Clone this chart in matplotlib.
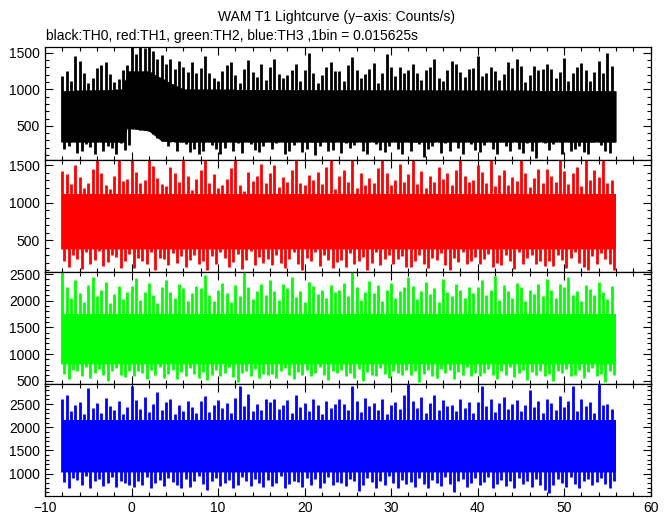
import numpy as np
import matplotlib
matplotlib.use('Agg')
import matplotlib.pyplot as plt
from matplotlib.ticker import MultipleLocator

plt.rcParams['font.family'] = ['Liberation Sans', 'DejaVu Sans']

# upper-side and lower-side excursions every 0.5 s,
# t = -8.0, -7.5, ... 55.5 s (one row = 8 s)
th0_hi = [1180, 1250, 1120, 1450, 1390, 1230, 1090, 1150, 1290, 1330, 1380, 1210, 1100, 1140, 1260, 1330,
          1575, 1490, 1575, 1560, 1575, 1520, 1420, 1470, 1350, 1420, 1280, 1390, 1310, 1240, 1380, 1220,
          1290, 1460, 1220, 1160, 1110, 1250, 1330, 1380, 1190, 1090, 1280, 1400, 1240, 1170, 1350, 1130,
          1300, 1420, 1210, 1150, 1190, 1270, 1340, 1120, 1260, 1500, 1230, 1080, 1190, 1310, 1380, 1250,
          1250, 1120, 1330, 1440, 1270, 1160, 1210, 1280, 1360, 1090, 1230, 1480, 1310, 1180, 1300, 1230,
          1270, 1350, 1220, 1130, 1260, 1310, 1420, 1150, 1110, 1260, 1390, 1340, 1240, 1170, 1280, 1290,
          1450, 1180, 1230, 1300, 1250, 1130, 1210, 1370, 1290, 1410, 1320, 1100, 1200, 1320, 1260, 1280,
          1350, 1280, 1160, 1240, 1430, 1120, 1220, 1300, 1360, 1270, 1110, 1240, 1390, 1230, 1500, 1320]
th0_lo = [180, 230, 290, 130, 160, 250, 210, 110, 300, 150, 230, 200, 120, 270, 170, 240,
          560, 640, 480, 600, 520, 450, 380, 300, 220, 330, 160, 280, 250, 140, 190, 120,
          150, 290, 240, 180, 110, 200, 320, 160, 270, 130, 300, 250, 170, 140, 220, 310,
          190, 260, 300, 120, 160, 240, 330, 140, 180, 280, 100, 230, 310, 150, 170, 290,
          130, 270, 200, 240, 310, 150, 110, 290, 250, 170, 140, 230, 320, 190, 120, 300,
          160, 280, 250, 70, 180, 230, 310, 130, 260, 150, 300, 200, 120, 290, 250, 170,
          140, 240, 300, 180, 110, 280, 230, 160, 320, 190, 130, 270, 150, 60, 310, 260,
          170, 250, 290, 120, 320, 150, 190, 230, 140, 110, 280, 300, 240, 160, 130, 280]

th1_hi = [1420, 1380, 1250, 1500, 1340, 1190, 1260, 1450, 1575, 1390, 1230, 1180, 1360, 1575, 1290, 1310,
          1575, 1410, 1260, 1300, 1575, 1490, 1330, 1250, 1220, 1470, 1400, 1280, 1575, 1350, 1170, 1320,
          1440, 1575, 1260, 1380, 1190, 1230, 1320, 1460, 1575, 1240, 1150, 1410, 1290, 1350, 1520, 1260,
          1390, 1500, 1210, 1340, 1270, 1430, 1575, 1260, 1230, 1370, 1300, 1410, 1250, 1480, 1575, 1180,
          1350, 1440, 1280, 1575, 1200, 1390, 1240, 1330, 1260, 1460, 1575, 1400, 1230, 1300, 1520, 1270,
          1380, 1575, 1250, 1420, 1190, 1350, 1280, 1470, 1320, 1390, 1240, 1440, 1575, 1360, 1270, 1300,
          1500, 1410, 1260, 1575, 1220, 1370, 1430, 1230, 1340, 1290, 1575, 1400, 1210, 1330, 1450, 1260,
          1450, 1360, 1270, 1575, 1420, 1250, 1390, 1480, 1220, 1575, 1300, 1440, 1340, 1575, 1260, 1300]
th1_lo = [220, 150, 310, 250, 120, 340, 190, 240, 360, 160, 210, 300, 280, 130, 230, 320,
          130, 270, 230, 180, 350, 100, 260, 250, 170, 330, 200, 290, 140, 240, 310, 190,
          230, 110, 290, 190, 340, 260, 150, 210, 320, 120, 240, 360, 170, 280, 200, 250,
          170, 300, 200, 130, 250, 350, 180, 110, 270, 220, 340, 160, 300, 240, 130, 210,
          240, 140, 330, 190, 230, 280, 110, 200, 350, 170, 250, 310, 180, 250, 290, 140,
          150, 220, 310, 180, 130, 270, 240, 330, 170, 100, 260, 210, 340, 190, 230, 280,
          190, 250, 320, 140, 200, 170, 300, 230, 120, 340, 180, 260, 310, 180, 220, 160,
          220, 160, 300, 240, 130, 270, 350, 200, 150, 110, 290, 190, 330, 250, 180, 110]

th2_hi = [2540, 2250, 2050, 2380, 2150, 1980, 2300, 2440, 2090, 2200, 2350, 1950, 2120, 2280, 2030, 2170,
          2280, 2420, 2020, 2170, 2330, 2100, 1960, 2250, 2390, 2160, 2060, 2310, 2230, 1990, 2140, 2270,
          2230, 2480, 2110, 2000, 2200, 2340, 2150, 1970, 2290, 2080, 2530, 2260, 2040, 2190, 2320, 2100,
          2380, 2190, 2010, 2310, 2240, 2450, 2070, 2180, 1980, 2350, 2270, 2120, 2210, 2050, 2300, 2160,
          2200, 2330, 2080, 2540, 2250, 2010, 2160, 2370, 2140, 2290, 1990, 2210, 2330, 2060, 2180, 2250,
          2440, 2280, 2030, 2180, 2350, 2120, 2240, 1970, 2400, 2170, 2090, 2310, 2200, 2050, 2260, 2140,
          2260, 2380, 2100, 2210, 2470, 2020, 2290, 2180, 2060, 2340, 2250, 1990, 2200, 2130, 2320, 2080,
          2400, 2200, 2050, 2320, 2260, 2450, 2110, 2190, 2000, 2300, 2220, 2100, 2350, 2170, 2040, 2280]
th2_lo = [620, 540, 700, 680, 590, 760, 560, 650, 720, 600, 500, 680, 740, 610, 570, 690,
          580, 690, 640, 530, 710, 600, 760, 560, 620, 700, 540, 660, 590, 730, 620, 560,
          660, 520, 610, 700, 580, 640, 750, 570, 480, 640, 690, 590, 720, 560, 630, 600,
          630, 560, 690, 740, 600, 540, 670, 610, 700, 580, 650, 760, 610, 520, 680, 640,
          700, 590, 640, 560, 720, 500, 660, 610, 580, 740, 620, 550, 690, 640, 600, 710,
          610, 680, 470, 630, 700, 590, 560, 720, 640, 700, 530, 660, 610, 750, 580, 640,
          580, 650, 720, 600, 540, 690, 610, 760, 570, 640, 700, 520, 660, 610, 690, 590,
          620, 500, 680, 640, 720, 580, 610, 700, 550, 660, 740, 590, 630, 470, 690, 610]

th3_hi = [2600, 2700, 2350, 2480, 2550, 2280, 2850, 2420, 2520, 2300, 2640, 2460, 2380, 2560, 2290, 2430,
          2900, 2580, 2400, 2660, 2320, 2500, 2750, 2380, 2540, 2620, 2290, 2480, 2360, 2570, 2440, 2310,
          2560, 2680, 2330, 2470, 2590, 2410, 2520, 2300, 2640, 2900, 2450, 2710, 2340, 2500, 2380, 2600,
          2550, 2620, 2390, 2480, 2580, 2300, 2700, 2440, 2530, 2350, 2610, 2490, 2280, 2560, 2420, 2510,
          2620, 2510, 2370, 2900, 2570, 2330, 2640, 2460, 2530, 2380, 2600, 2290, 2480, 2550, 2400, 2690,
          2930, 2560, 2420, 2650, 2310, 2520, 2700, 2380, 2580, 2460, 2490, 2340, 2620, 2410, 2550, 2300,
          2540, 2880, 2450, 2600, 2320, 2520, 2660, 2400, 2510, 2590, 2350, 2470, 2800, 2430, 2560, 2310,
          2620, 2530, 2380, 2680, 2440, 2570, 2900, 2350, 2600, 2460, 2540, 2300, 2930, 2480, 2510, 2400]
th3_lo = [820, 700, 900, 860, 760, 940, 680, 830, 880, 740, 790, 920, 710, 850, 800, 760,
          710, 850, 760, 930, 690, 800, 870, 740, 910, 820, 760, 690, 880, 720, 840, 950,
          780, 650, 830, 900, 740, 800, 870, 700, 760, 920, 840, 730, 890, 800, 710, 860,
          730, 800, 940, 690, 770, 850, 820, 720, 900, 760, 880, 700, 790, 930, 750, 820,
          790, 740, 880, 830, 620, 760, 910, 810, 700, 850, 750, 940, 790, 680, 860, 770,
          820, 720, 900, 770, 690, 860, 800, 740, 930, 780, 600, 840, 880, 720, 790, 910,
          760, 810, 920, 700, 780, 870, 740, 830, 690, 900, 770, 850, 720, 880, 760, 650,
          580, 760, 890, 800, 720, 930, 780, 700, 840, 880, 750, 820, 910, 770, 690, 850]

# solid part of each curve (where nearly every bin falls)
th0_core_t = [-8, -1, -0.5, 2, 3.5, 6, 56]
th0_core_lo = [280, 280, 470, 430, 290, 280, 280]
th0_core_hi = [980, 1000, 1250, 1250, 1150, 1000, 980]
core_t = [th0_core_t, [-8, 56], [-8, 56], [-8, 56]]
core_lo = [th0_core_lo, [390, 390], [820, 820], [1040, 1040]]
core_hi = [th0_core_hi, [1120, 1120], [1750, 1750], [2150, 2150]]

his = [th0_hi, th1_hi, th2_hi, th3_hi]
los = [th0_lo, th1_lo, th2_lo, th3_lo]
colors = ['black', '#ff0000', '#00ff00', '#0000ff']
ylims = [(40, 1575), (83, 1575), (440, 2545), (515, 2935)]

t_half = -8 + 0.5 * np.arange(128)

fig = plt.figure(figsize=(6.72, 5.15), dpi=100)
left, width = 45 / 672, 605.7 / 672
top, ph = 47.3, 112.2

for i in range(4):
    ax = fig.add_axes([left, 1 - (top + (i + 1) * ph) / 515, width, ph / 515])
    c = colors[i]
    ax.fill_between(core_t[i], core_lo[i], core_hi[i], color=c, lw=0)

    # spikes up and down from the solid part
    base_up = np.interp(t_half, core_t[i], core_lo[i])
    base_dn = np.interp(t_half + 0.25, core_t[i], core_hi[i])
    ax.vlines(t_half, base_up, his[i], color=c, lw=2.0)
    ax.vlines(t_half + 0.25, los[i], base_dn, color=c, lw=2.0)

    ax.set_xlim(-10, 60)
    ax.set_ylim(*ylims[i])
    ax.xaxis.set_major_locator(MultipleLocator(10))
    ax.xaxis.set_minor_locator(MultipleLocator(2))
    ax.yaxis.set_major_locator(MultipleLocator(500))
    ax.yaxis.set_minor_locator(MultipleLocator(100))
    ax.tick_params(which='both', direction='in', top=True, right=True, labelsize=10, width=0.8)
    ax.tick_params(which='major', length=6)
    ax.tick_params(which='minor', length=3)
    for s in ax.spines.values():
        s.set_linewidth(0.9)
    if i < 3:
        ax.tick_params(labelbottom=False)

fig.text(0.5, 1 - 17 / 515, 'WAM T1 Lightcurve (y\u2212axis: Counts/s)', ha='center', va='center', fontsize=10)
fig.text(46 / 672, 1 - 36 / 515, 'black:TH0, red:TH1, green:TH2, blue:TH3 ,1bin = 0.015625s',
         ha='left', va='center', fontsize=10)

fig.savefig('out.png', dpi=100)
